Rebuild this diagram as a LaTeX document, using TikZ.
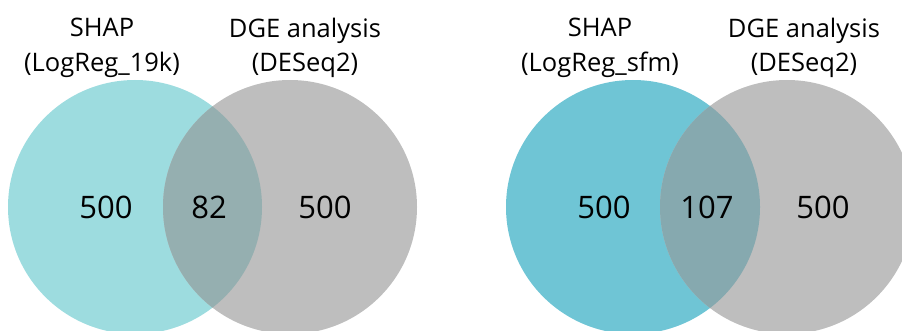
\documentclass[tikz,border=0pt]{standalone}
\usepackage{fontspec}
\setmainfont{Open Sans}
\definecolor{shapcolorA}{HTML}{9DDCDF}
\definecolor{shapcolorB}{HTML}{6FC5D5}
\definecolor{dgecolor}{HTML}{BEBEBE}
\definecolor{lenscolorA}{HTML}{95AFB0}
\definecolor{lenscolorB}{HTML}{86A9AF}
\usetikzlibrary{positioning}

\begin{document}
\begin{tikzpicture}[x=1pt,y=-1pt]
	\tikzstyle{every node}=[font=\fontsize{25.5}{34.5}\selectfont, text=black, align=center]
	\tikzstyle{count}=[font=\fontsize{31}{34}\selectfont]
	\useasboundingbox (0,0) rectangle (902,331);
	% centres
	\coordinate (shapA) at (135,207);
	\coordinate (dgeA) at (290,207);
	\coordinate (shapB) at (633,207);
	\coordinate (dgeB) at (787,207);
	% first diagram
	\fill [shapcolorA] (shapA) circle [radius=127pt];
	\fill [dgecolor] (dgeA) circle [radius=127pt];
	\begin{scope}
		\clip (shapA) circle [radius=127pt];
		\fill [lenscolorA] (dgeA) circle [radius=127pt];
	\end{scope}
	% second diagram
	\fill [shapcolorB] (shapB) circle [radius=127pt];
	\fill [dgecolor] (dgeB) circle [radius=127pt];
	\begin{scope}
		\clip (shapB) circle [radius=127pt];
		\fill [lenscolorB] (dgeB) circle [radius=127pt];
	\end{scope}
	% titles
	\node (titleshapA) at (102,48) {SHAP\\(LogReg\_19k)};
	\node (titledgeA) at (305,48) {DGE analysis\\(DESeq2)};
	\node (titleshapB) at (600,48) {SHAP\\(LogReg\_sfm)};
	\node (titledgeB) at (804,48) {DGE analysis\\(DESeq2)};
	% counts
	\node (onlyshapA) [count] at (106,207) {500};
	\node (bothA) [count] at (209,207) {82};
	\node (onlydgeA) [count] at (325,207) {500};
	\node (onlyshapB) [count] at (604,207) {500};
	\node (bothB) [count] at (707,207) {107};
	\node (onlydgeB) [count] at (823,207) {500};
\end{tikzpicture}
\end{document}
